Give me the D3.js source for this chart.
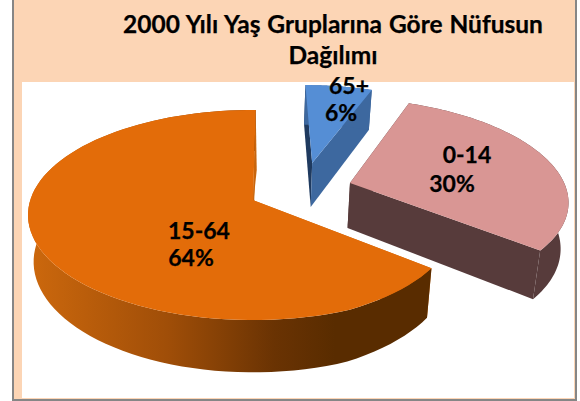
<!DOCTYPE html>
<html lang="tr">
<head>
  <meta charset="UTF-8">
  <title>2000 Yılı Yaş Grupları</title>
  <style>
    body { margin: 0; background: #fff; overflow: hidden; }
    text { font-family: Lato, "Open Sans", sans-serif; font-weight: 700; fill: #000; stroke: #000; stroke-width: 0.25px; }
  </style>
</head>
<body>
  <script src="https://d3js.org/d3.v7.min.js"></script>
  <script>
    const categories = ["65+", "0-14", "15-64"];
    const percents = [6, 30, 64];
    const titleLines = ["2000 Yılı Yaş Gruplarına Göre Nüfusun", "Dağılımı"];

    // styling per slice
    const topColors = ["#558ed5", "#d99694", "#e36c09"];
    const sideColors = ["#3d689f", "#573b3b", "url(#orange-side)"];
    const wallColors = ["#3d689f", "#573b3b", "#c8660e"];
    const explode = [[0.28, 0.379], [0.446, 0.169], [0, 0]];
    const rimScale = [0.95, 0.985, 1];
    const labelPos = [[349, 94, 341, 121], [467, 163, 452, 192], [199, 239, 191, 266]];

    const width = 580, height = 401;
    const svg = d3.select("body").append("svg").attr("width", width).attr("height", height);

    const defs = svg.append("defs");
    const grad = defs.append("linearGradient").attr("id", "orange-side")
      .attr("gradientUnits", "userSpaceOnUse")
      .attr("x1", 30).attr("x2", 335).attr("y1", 0).attr("y2", 0);
    grad.append("stop").attr("offset", 0).attr("stop-color", "#cc680d");
    grad.append("stop").attr("offset", 0.45).attr("stop-color", "#a04e08");
    grad.append("stop").attr("offset", 0.8).attr("stop-color", "#6a3303");
    grad.append("stop").attr("offset", 1).attr("stop-color", "#592c00");

    // frame
    svg.append("rect").attr("x", 13).attr("y", -2).attr("width", 563).attr("height", 402)
      .attr("fill", "#fcd5b5").attr("stroke", "#868686").attr("stroke-width", 2);
    svg.append("rect").attr("x", 22).attr("y", 82).attr("width", 552).attr("height", 316).attr("fill", "#fff");

    svg.selectAll("text.title").data(titleLines).enter().append("text")
      .attr("class", "title")
      .attr("x", 333)
      .attr("y", (d, i) => 33 + i * 31)
      .attr("text-anchor", "middle")
      .attr("font-size", 24.5)
      .attr("word-spacing", 1)
      .text(d => d);

    // tilted disc with perspective
    const cx = 253, cy = 200, ax = 222.7, ay = 102.9, persp = 0.143;
    const sx = d3.scaleLinear().domain([0, 1]).range([cx, cx + ax]);
    const sy = d3.scaleLinear().domain([0, 1]).range([cy, cy - ay]);

    const projectTop = ([X, Z]) => {
      const w = 1 + persp * Z;
      return [sx(X / w), sy(Z / w)];
    };
    const projectBottom = ([X, Z]) => {
      const [x, y] = projectTop([X, Z]);
      return [cx + (x - cx) * 0.975, y + 46 / (1 + 0.12 * Z)];
    };

    const pie = d3.pie().sort(null).startAngle(0).endAngle(2 * Math.PI);
    const arcs = pie(percents);
    const line = d3.line();

    // the big slice pulls in a little at its front right corner
    const taper = d3.scaleLinear().domain([arcs[2].startAngle, arcs[2].startAngle + 0.5]).range([0.95, 1]).clamp(true);

    const rimPoint = (i, a) => {
      const r = i === 2 ? taper(a) : rimScale[i];
      return [explode[i][0] + r * Math.sin(a), explode[i][1] + r * Math.cos(a)];
    };
    const apex = i => explode[i];
    const rimAngles = (a0, a1) => d3.range(0, 91).map(k => a0 + (a1 - a0) * k / 90);

    const g = svg.append("g");
    const drawOrder = [0, 1, 2];

    drawOrder.forEach(i => {
      const a0 = arcs[i].startAngle;
      const a1 = arcs[i].endAngle + (i === 2 ? 0.014 : 0);
      const rim = rimAngles(a0, a1).map(a => rimPoint(i, a));

      // cut walls
      [a0, a1].forEach(a => {
        const p = rimPoint(i, a);
        g.append("path")
          .attr("d", line([projectTop(apex(i)), projectTop(p), projectBottom(p), projectBottom(apex(i))]) + "Z")
          .attr("fill", i === 0 && a === a0 ? "#1f3a5f" : wallColors[i]);
      });

      // outer side
      g.append("path")
        .attr("d", line(rim.map(projectTop).concat(rim.map(projectBottom).reverse())) + "Z")
        .attr("fill", sideColors[i]);

      // sliver where the big slice meets the gap
      if (i === 2) {
        const r = projectTop(rim[rim.length - 1]), c = projectTop(apex(i));
        g.append("path")
          .attr("d", line([r, [r[0] + 1, r[1] + 60], [c[0] + 1, c[1] - 4], c]) + "Z")
          .attr("fill", wallColors[i]);
      }

      // top face
      g.append("path")
        .attr("d", line([apex(i)].concat(rim).map(projectTop)) + "Z")
        .attr("fill", topColors[i]);
    });

    categories.forEach((c, i) => {
      g.append("text").attr("x", labelPos[i][0]).attr("y", labelPos[i][1])
        .attr("text-anchor", "middle").attr("font-size", 23).text(c);
      g.append("text").attr("x", labelPos[i][2]).attr("y", labelPos[i][3])
        .attr("text-anchor", "middle").attr("font-size", 23).text(percents[i] + "%");
    });
  </script>
</body>
</html>
